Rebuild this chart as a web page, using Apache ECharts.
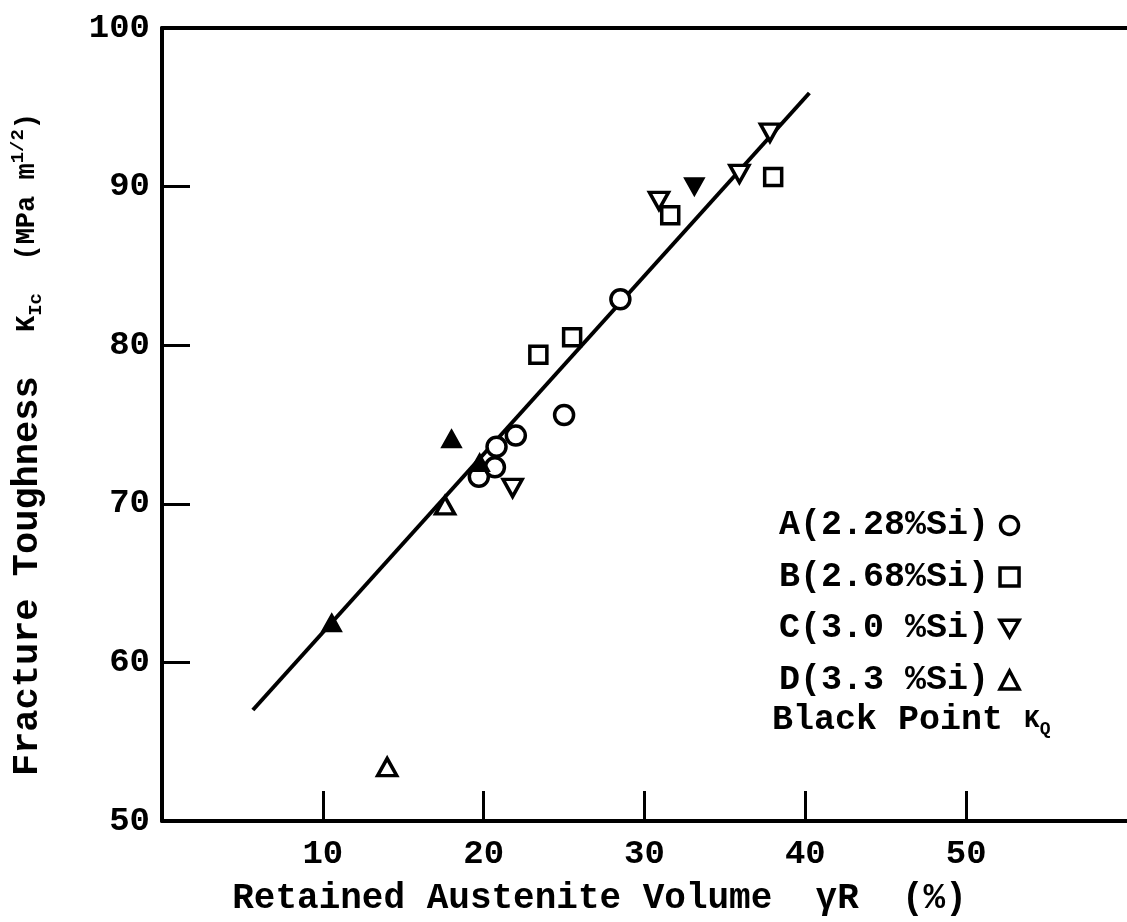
<!DOCTYPE html>
<html><head><meta charset="utf-8">
<script src="https://cdn.jsdelivr.net/npm/echarts@6/dist/echarts.min.js"></script>
<style>html,body{margin:0;padding:0;background:#fff}#c{width:1127px;height:922px}</style>
</head><body><div id="c"></div>
<script>
// ---- data ----
const xTicks = [10, 20, 30, 40, 50];
const yTicks = [50, 60, 70, 80, 90, 100];
const seriesNames = ['A(2.28%Si)', 'B(2.68%Si)', 'C(3.0 %Si)', 'D(3.3 %Si)'];
const A_x = [19.7, 20.7, 20.8, 22.0, 25.0, 28.5];
const A_y = [71.7, 72.3, 73.6, 74.3, 75.6, 82.9];
const B_x = [23.4, 25.5, 31.6, 38.0];
const B_y = [79.4, 80.5, 88.2, 90.6];
const C_x = [21.8, 30.9, 35.9, 37.8];
const C_y = [71.0, 89.1, 90.8, 93.4];
const Cq_x = [33.1];
const Cq_y = [90.0];
const D_x = [17.6, 14.0];
const D_y = [69.9, 53.4];
const Dq_x = [18.0, 19.75, 10.55];
const Dq_y = [74.1, 72.6, 62.5];
const fit_x = [5.65, 40.25];
const fit_y = [57.0, 95.9];

const zip = (xs, ys) => xs.map((x, i) => [x, ys[i]]);
const FONT = 'Liberation Mono';
const downTri = 'path://M0,0L10,0L5,8.66Z';
const openStyle = { color: '#fff', borderColor: '#000', borderWidth: 3.5, opacity: 1 };
const fillStyle = { color: '#000', borderColor: '#000', borderWidth: 2, opacity: 1 };

const chart = echarts.init(document.getElementById('c'), null, { renderer: 'canvas' });
chart.setOption({
  animation: false,
  backgroundColor: '#fff',
  grid: { left: 162, top: 28, width: 966, height: 800 },
  xAxis: [{
    type: 'value', min: 0, max: 60, interval: 10,
    axisLine: { show: true, lineStyle: { color: '#000', width: 4 } },
    axisTick: { show: true, inside: true, length: 30, lineStyle: { color: '#000', width: 3 } },
    axisLabel: { showMinLabel: false, showMaxLabel: false, margin: 16, color: '#000',
      fontFamily: FONT, fontWeight: 'bold', fontSize: 34 },
    splitLine: { show: false },
    name: 'Retained Austenite Volume  γR  (%)',
    nameLocation: 'middle', nameGap: 60,
    nameTextStyle: { color: '#000', fontFamily: FONT, fontWeight: 'bold', fontSize: 36, padding: [0, 90, 0, 0] }
  }, {
    type: 'value', position: 'top', min: 0, max: 60,
    axisLine: { show: true, onZero: false, lineStyle: { color: '#000', width: 4 } },
    axisTick: { show: false }, axisLabel: { show: false }, splitLine: { show: false }
  }],
  yAxis: {
    type: 'value', min: 50, max: 100, interval: 10,
    axisLine: { show: true, lineStyle: { color: '#000', width: 4 } },
    axisTick: { show: true, inside: true, length: 28, lineStyle: { color: '#000', width: 3 } },
    axisLabel: { margin: 12, color: '#000', fontFamily: FONT, fontWeight: 'bold', fontSize: 34,
      formatter: v => yTicks.includes(v) ? String(v) : '' },
    splitLine: { show: false },
    name: '{a|Fracture Toughness  }{b|K}{s|Ic}{b|  (MPa m}{u|1/2}{b|)}',
    nameLocation: 'middle', nameGap: 116,
    nameTextStyle: {
      color: '#000', fontFamily: FONT, fontWeight: 'bold', padding: [0, 40, 0, 0],
      rich: {
        a: { fontFamily: FONT, fontWeight: 'bold', fontSize: 37, color: '#000' },
        b: { fontFamily: FONT, fontWeight: 'bold', fontSize: 27, color: '#000' },
        s: { fontFamily: FONT, fontWeight: 'bold', fontSize: 19, color: '#000', verticalAlign: 'bottom' },
        u: { fontFamily: FONT, fontWeight: 'bold', fontSize: 19, color: '#000', verticalAlign: 'top' }
      }
    }
  },
  legend: {
    orient: 'vertical', left: 774, top: 503, align: 'right',
    itemWidth: 19, itemHeight: 18, itemGap: 16.5,
    itemStyle: { borderWidth: 3.5, opacity: 1 },
    textStyle: { color: '#000', fontFamily: FONT, fontWeight: 'bold', fontSize: 35, padding: [0, 6, 0, 0] },
    data: seriesNames
  },
  graphic: [{
    type: 'text', left: 772, top: 703,
    style: {
      text: '{a|Black Point }{k|K}{q|Q}',
      rich: {
        a: { fontFamily: FONT, fontWeight: 'bold', fontSize: 35, fill: '#000' },
        k: { fontFamily: FONT, fontWeight: 'bold', fontSize: 26, fill: '#000' },
        q: { fontFamily: FONT, fontWeight: 'bold', fontSize: 18, fill: '#000', verticalAlign: 'bottom' }
      }
    }
  }],
  series: [
    { type: 'line', name: 'fit', data: zip(fit_x, fit_y), showSymbol: false, symbol: 'none',
      lineStyle: { color: '#000', width: 4 }, z: 1, silent: true },
    { type: 'scatter', name: seriesNames[0], data: zip(A_x, A_y), symbol: 'circle', symbolSize: 19, itemStyle: openStyle, z: 3 },
    { type: 'scatter', name: seriesNames[1], data: zip(B_x, B_y), symbol: 'rect', symbolSize: 17, itemStyle: openStyle, z: 3 },
    { type: 'scatter', name: seriesNames[2], data: zip(C_x, C_y), symbol: downTri, symbolSize: [19, 17], itemStyle: openStyle, z: 3 },
    { type: 'scatter', name: seriesNames[3], data: zip(D_x, D_y), symbol: 'triangle', symbolSize: [19, 17], itemStyle: openStyle, z: 3 },
    { type: 'scatter', name: 'C KQ', data: zip(Cq_x, Cq_y), symbol: downTri, symbolSize: [19, 17], itemStyle: fillStyle, z: 3 },
    { type: 'scatter', name: 'D KQ', data: zip(Dq_x, Dq_y), symbol: 'triangle', symbolSize: [19, 17], itemStyle: fillStyle, z: 3 }
  ]
});
</script></body></html>
